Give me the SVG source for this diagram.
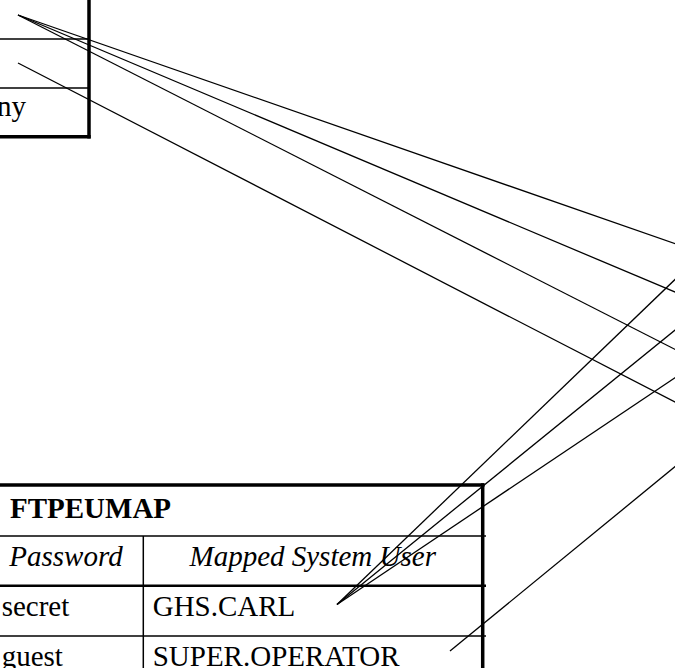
<svg xmlns="http://www.w3.org/2000/svg" width="675" height="668" viewBox="0 0 675 668">
<style>
  .t { font-family: "Liberation Serif", "Times New Roman", serif; font-size: 29px; fill: #000; }
  .b { font-weight: bold; }
  .i { font-style: italic; }
  .thick { stroke: #000; stroke-width: 3.5; fill: none; }
  .thin { stroke: #000; stroke-width: 1.5; fill: none; }
  .mid { stroke: #000; stroke-width: 2.5; fill: none; }
  .conn line { stroke: #000; stroke-width: 1.3; fill: none; }
</style>
<rect width="675" height="668" fill="#fff"/>
<g id="table-top">
  <line class="thin" x1="0" y1="39" x2="89" y2="39"/>
  <line class="thin" x1="0" y1="88" x2="89" y2="88"/>
  <line class="thick" x1="89" y1="0" x2="89" y2="138.5"/>
  <line class="thick" x1="0" y1="136.7" x2="90.7" y2="136.7"/>
  <text class="t" x="-3" y="115.5">ny</text>
</g>
<g id="ftpeumap">
  <line class="thick" x1="0" y1="485" x2="484.5" y2="485"/>
  <line class="thin" x1="0" y1="536" x2="486" y2="536"/>
  <line class="mid" x1="0" y1="585.7" x2="486" y2="585.7"/>
  <line class="thin" x1="0" y1="636" x2="486" y2="636"/>
  <line class="thin" x1="143.3" y1="536" x2="143.3" y2="668"/>
  <line class="thick" x1="482.7" y1="483.3" x2="482.7" y2="668"/>
  <text class="t b" x="10" y="517.7">FTPEUMAP</text>
  <text class="t i" x="9.3" y="566">Password</text>
  <text class="t i" x="312.7" y="566" text-anchor="middle">Mapped System User</text>
  <text class="t" x="1.7" y="616">secret</text>
  <text class="t" x="152.7" y="616">GHS.CARL</text>
  <text class="t" x="1.7" y="666">guest</text>
  <text class="t" x="152.7" y="666">SUPER.OPERATOR</text>
</g>
<g id="connectors" class="conn">
  <line x1="18" y1="15" x2="690" y2="248.9"/>
  <line x1="18" y1="15" x2="690" y2="298.4"/>
  <line x1="18" y1="15" x2="690" y2="357"/>
  <line x1="18" y1="63" x2="690" y2="409.8"/>
  <line x1="337" y1="604.5" x2="690" y2="265.1"/>
  <line x1="337" y1="604.5" x2="690" y2="317.9"/>
  <line x1="337" y1="604.5" x2="690" y2="367.6"/>
  <line x1="450" y1="651" x2="690" y2="454.4"/>
</g>
</svg>
